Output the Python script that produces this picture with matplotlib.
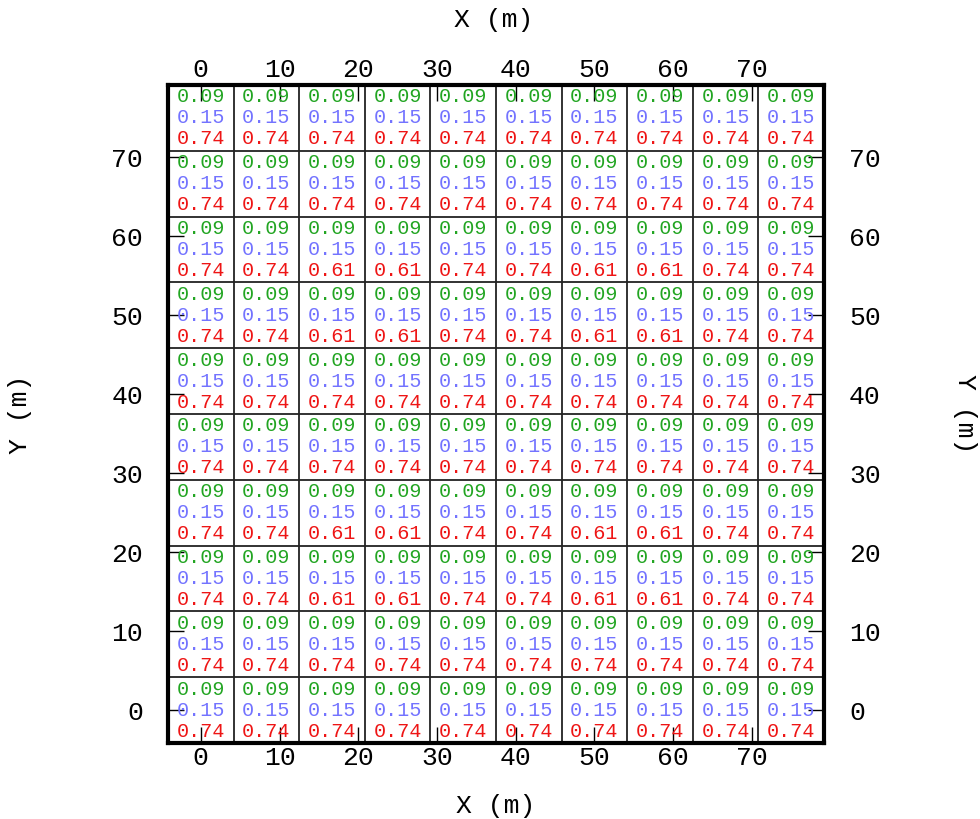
import numpy as np
import matplotlib.pyplot as plt

# cell centres (m)
x_centres = [i * 25 / 3 for i in range(10)]
y_centres = [i * 25 / 3 for i in range(10)]

# values per cell, rows listed from bottom (y=0) to top
green_vals = [[0.09] * 10 for _ in range(10)]
blue_vals = [[0.15] * 10 for _ in range(10)]
row_all = [0.74] * 10
row_mix = [0.74, 0.74, 0.61, 0.61, 0.74, 0.74, 0.61, 0.61, 0.74, 0.74]
red_vals = [row_all, row_all, row_mix, row_mix, row_all,
            row_all, row_mix, row_mix, row_all, row_all]

ticks = [0, 10, 20, 30, 40, 50, 60, 70]

plt.rcParams['font.family'] = 'Liberation Mono'

fig = plt.figure(figsize=(9.8, 8.19), dpi=100)
ax = fig.add_axes([168 / 980, 1 - 743 / 819, 656 / 980, 658 / 819])

half = 25 / 6
ax.set_xlim(x_centres[0] - half, x_centres[-1] + half)
ax.set_ylim(y_centres[0] - half, y_centres[-1] + half)

# grid lines between cells
for k in range(1, 10):
    ax.axvline(x_centres[0] - half + k * 25 / 3, color='#222222', lw=1.3)
    ax.axhline(y_centres[0] - half + k * 25 / 3, color='#222222', lw=1.3)

dy = 2.65
for j, yc in enumerate(y_centres):
    for i, xc in enumerate(x_centres):
        ax.text(xc, yc + dy, '%.2f' % green_vals[j][i], color='#22a522',
                ha='center', va='center', fontsize=14.5)
        ax.text(xc, yc, '%.2f' % blue_vals[j][i], color='#7373ff',
                ha='center', va='center', fontsize=14.5)
        ax.text(xc, yc - dy, '%.2f' % red_vals[j][i], color='#ee1515',
                ha='center', va='center', fontsize=14.5)

ax.set_xticks(ticks)
ax.set_yticks(ticks)
ax.tick_params(direction='in', length=11.5, width=1, top=True, right=True,
               labeltop=True, labelright=True, labelsize=19)
ax.tick_params(axis='x', pad=2.5)
ax.tick_params(axis='y', pad=18)
for s in ax.spines.values():
    s.set_linewidth(3)

fig.text(494 / 980, 1 - 20 / 819, 'X (m)', fontsize=19, ha='center', va='center')
fig.text(496 / 980, 1 - 806 / 819, 'X (m)', fontsize=19, ha='center', va='center')
fig.text(20 / 980, 1 - 414 / 819, 'Y (m)', fontsize=19, ha='center', va='center',
         rotation=90)
fig.text(965 / 980, 1 - 414 / 819, 'Y (m)', fontsize=19, ha='center', va='center',
         rotation=-90)

fig.savefig('out.png', dpi=100)
